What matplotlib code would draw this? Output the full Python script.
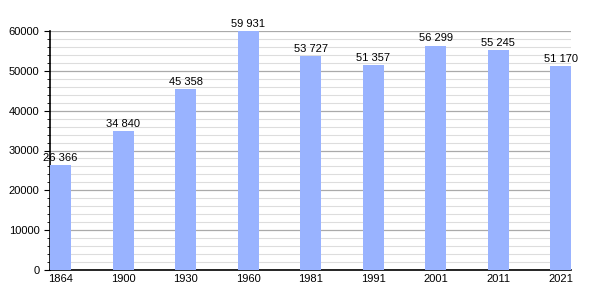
import matplotlib.pyplot as plt
from matplotlib.ticker import MultipleLocator

# Population by census year
years = ["1864", "1900", "1930", "1960", "1981", "1991", "2001", "2011", "2021"]
population = [26366, 34840, 45358, 59931, 53727, 51357, 56299, 55245, 51170]

plt.rcParams["font.family"] = ["Liberation Sans", "DejaVu Sans"]

fig = plt.figure(figsize=(6, 3), dpi=100)
ax = fig.add_axes([50 / 600, 30 / 300, 521 / 600, 239 / 300])

x = list(range(len(years)))
bars = ax.bar(x, population, width=0.336, color="#99b3ff", zorder=3)

for xi, v in zip(x, population):
    label = f"{v:,}".replace(",", " ")
    ax.text(xi, v + 600, label, ha="center", va="bottom", fontsize=8, zorder=4)

ax.set_xlim(-0.168, len(years) - 1 + 0.168)
ax.set_ylim(0, 60000)
ax.set_xticks(x)
ax.set_xticklabels(years, fontsize=8)
ax.yaxis.set_major_locator(MultipleLocator(10000))
ax.yaxis.set_minor_locator(MultipleLocator(2000))
ax.tick_params(axis="y", labelsize=8, length=4, width=0.8)
ax.tick_params(axis="y", which="minor", length=2, width=0.6)
ax.tick_params(axis="x", length=0, pad=3)

ax.grid(axis="y", which="major", color="#aaaaaa", linewidth=0.9, zorder=1)
ax.grid(axis="y", which="minor", color="#dddddd", linewidth=0.8, zorder=1)

for side in ["top", "right"]:
    ax.spines[side].set_visible(False)
ax.spines["left"].set_linewidth(1.2)
ax.spines["bottom"].set_linewidth(1.2)

fig.savefig("out.png", dpi=100)
